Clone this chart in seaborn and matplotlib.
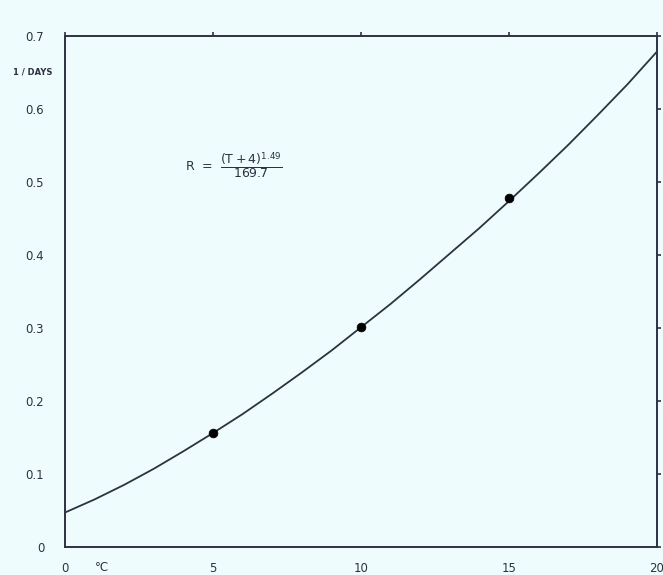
import numpy as np
import pandas as pd
import seaborn as sns
import matplotlib.pyplot as plt

# curve (rate R vs temperature T)
temp = [0, 1, 2, 3, 4, 5, 6, 7, 8, 9, 10, 11, 12, 13, 14, 15, 16, 17, 18, 19, 20]
rate = [0.047, 0.065, 0.085, 0.107, 0.131, 0.156, 0.182, 0.210, 0.239, 0.269,
        0.301, 0.333, 0.367, 0.402, 0.437, 0.474, 0.512, 0.551, 0.592, 0.634, 0.679]

# measured points
obs_temp = [5, 10, 15]
obs_rate = [0.156, 0.301, 0.478]

x_ticks = [0, 5, 10, 15, 20]
x_labels = ["0", "5", "10", "15", "20"]
y_ticks = [0, 0.1, 0.2, 0.3, 0.4, 0.5, 0.6, 0.7]
y_labels = ["0", "0.1", "0.2", "0.3", "0.4", "0.5", "0.6", "0.7"]

bg = "#effcfd"
ink = "#2e3140"

sns.set_style("white")
plt.rcParams['font.family'] = ['DejaVu Sans']
plt.rcParams['mathtext.default'] = 'regular'

curve = pd.DataFrame({"T": temp, "R": rate})
pts = pd.DataFrame({"T": obs_temp, "R": obs_rate})

fig = plt.figure(figsize=(6.63, 5.75), dpi=100, facecolor=bg)
ax = fig.add_axes([0.098, 0.049, 0.893, 0.888])
ax.set_facecolor(bg)

sns.lineplot(data=curve, x="T", y="R", ax=ax, color=ink, linewidth=1.3)
sns.scatterplot(data=pts, x="T", y="R", ax=ax, color="black", s=40, edgecolor="black", zorder=3)

ax.set_xlim(0, 20)
ax.set_ylim(0, 0.7)
ax.set_xticks(x_ticks)
ax.set_xticklabels(x_labels)
ax.set_yticks(y_ticks)
ax.set_yticklabels(y_labels)
ax.set_xlabel("")
ax.set_ylabel("")

for s in ax.spines.values():
    s.set_color(ink)
    s.set_linewidth(1.4)
    s.set_visible(True)

ax.tick_params(axis="both", direction="out", length=5, width=1.2, color=ink,
               labelsize=8.5, labelcolor=ink, top=True, right=True,
               labeltop=False, labelright=False)
ax.tick_params(axis="x", which="major", top=True)
ax.xaxis.set_tick_params(which="major", pad=6)
ax.yaxis.set_tick_params(which="major", pad=10)
for t in ax.xaxis.get_major_ticks():
    t.tick2line.set_markersize(3)
for t in ax.yaxis.get_major_ticks():
    t.tick2line.set_markersize(3)

ax.text(-0.055, 0.93, "1 / DAYS", transform=ax.transAxes, fontsize=6,
        color=ink, ha="center", va="center", fontweight="bold")
ax.text(1.0, -0.0285, "°C", fontsize=8.5, color=ink,
        ha="left", va="center", clip_on=False)

ax.text(4.05, 0.522, r"R  =  $\dfrac{(T+4)^{1.49}}{169.7}$", fontsize=9,
        color=ink, ha="left", va="center")

fig.savefig("out.png", dpi=100, facecolor=bg)
